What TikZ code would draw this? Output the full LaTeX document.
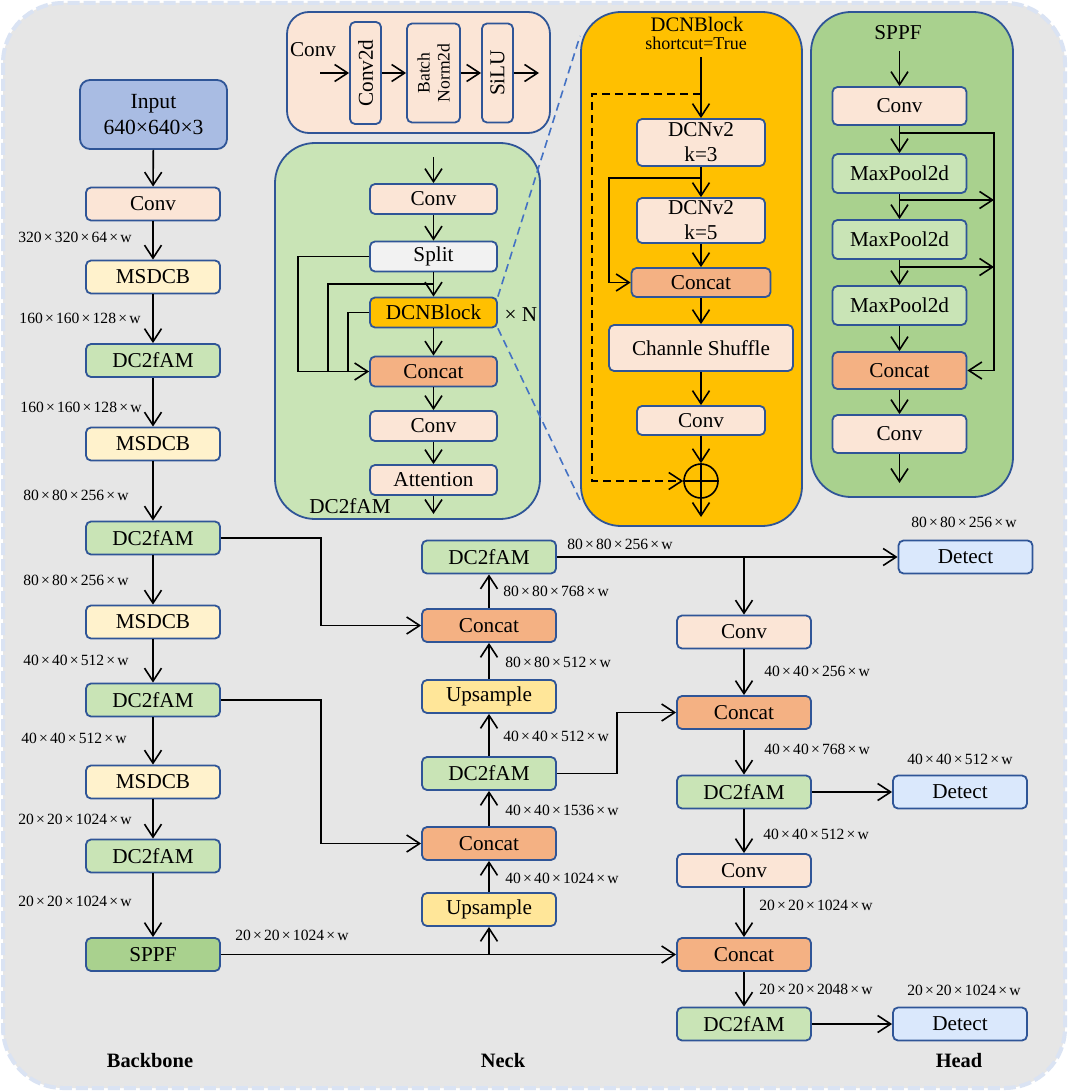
\documentclass[tikz,border=0pt]{standalone}
\usepackage{fontspec}
\setmainfont{Liberation Serif}
\usetikzlibrary{arrows.meta}
\definecolor{borde}{HTML}{2F5597}
\definecolor{fondo}{HTML}{E6E6E6}
\definecolor{margen}{HTML}{DAE3F3}
\definecolor{guiaazul}{HTML}{4472C4}
\definecolor{cconv}{HTML}{FBE5D6}
\definecolor{cmsdcb}{HTML}{FFF2CC}
\definecolor{cdcf}{HTML}{C9E4B6}
\definecolor{csppf}{HTML}{A9D18E}
\definecolor{ccat}{HTML}{F4B183}
\definecolor{cup}{HTML}{FFE699}
\definecolor{cdet}{HTML}{DAE8FC}
\definecolor{cinput}{HTML}{A9BCE3}
\definecolor{csplit}{HTML}{F2F2F2}
\definecolor{cdcn}{HTML}{FFC000}
\newcommand{\por}{\kern1.1pt×\kern1.1pt}
\newcommand{\tam}[3]{#1\por#2\por#3\por w}

\begin{document}
\begin{tikzpicture}[x=0.5pt, y=-0.5pt,
	caja/.style={draw=borde, line width=0.9pt, rounded corners=2.5pt, inner sep=0pt, minimum width=67pt, minimum height=16.5pt, align=center, font=\fontsize{10.6}{12}\selectfont},
	mini/.style={caja, minimum width=63.5pt, minimum height=15pt},
	marco/.style={draw=borde, line width=0.9pt, rounded corners=20pt},
	medida/.style={inner sep=0pt, font=\fontsize{7.8}{9}\selectfont},
	texto/.style={inner sep=0pt, font=\fontsize{10.6}{12}\selectfont},
	titulo/.style={inner sep=0pt, font=\bfseries\fontsize{10.2}{12}\selectfont},
	flecha/.style={-{Straight Barb[length=6.5pt,width=8.5pt]}, line width=0.8pt},
	linea/.style={line width=0.8pt},
	guia/.style={draw=guiaazul, line width=0.8pt, dash pattern=on 4pt off 2.5pt}]
		% Fondo
			\fill[white] (0,0) rectangle (1068,1091);
			\useasboundingbox (0,0) rectangle (1068,1091);
			\draw[draw=margen, fill=fondo, line width=2pt, dash pattern=on 6pt off 2pt, rounded corners=30pt] (3,3) rectangle (1065,1088);
		% Bloque Conv
			\draw[marco, fill=cconv, rounded corners=11pt] (287,12) rectangle (550,133);
			\node[texto] (tconv) at (313,50) {Conv};
			\node[caja, fill=cconv, rotate=90, minimum width=51pt, minimum height=15.5pt] (c2d) at (365.5,73) {Conv2d};
			\node[caja, fill=cconv, rotate=90, minimum width=49.5pt, minimum height=26.5pt, font=\fontsize{8.8}{10}\selectfont] (bn) at (433.5,73) {Batch\\Norm2d};
			\node[caja, fill=cconv, rotate=90, minimum width=49.5pt, minimum height=15.5pt] (silu) at (497.5,73) {SiLU};
			\coordinate (cin) at (320,73);
			\coordinate (cout) at (539,73);
			\draw[flecha] (cin) -- (c2d);
			\draw[flecha] (c2d) -- (bn);
			\draw[flecha] (bn) -- (silu);
			\draw[flecha] (silu) -- (cout);
		% Bloque DC2fAM
			\draw[marco, fill=cdcf] (275,143) rectangle (540,519);
			\node[mini, fill=cconv] (dconv) at (433.5,199) {Conv};
			\node[mini, fill=csplit] (dsplit) at (433.5,256.5) {Split};
			\node[mini, fill=cdcn] (ddcn) at (433.5,312.5) {DCNBlock};
			\node[mini, fill=ccat] (dcat) at (433.5,371.5) {Concat};
			\node[mini, fill=cconv] (dconv2) at (433.5,426) {Conv};
			\node[mini, fill=cconv] (datt) at (433.5,480) {Attention};
			\node[texto] (dn) at (521,315) {× N};
			\node[texto] (tdcf) at (350,506) {DC2fAM};
			\coordinate (din) at (433.5,157);
			\coordinate (dout) at (433.5,514);
			\coordinate (dj) at (433.5,284);
			% Flujo
				\draw[flecha] (din) -- (dconv);
				\draw[flecha] (dconv) -- (dsplit);
				\draw[flecha] (dsplit) -- (ddcn);
				\draw[flecha] (ddcn) -- (dcat);
				\draw[flecha] (dcat) -- (dconv2);
				\draw[flecha] (dconv2) -- (datt);
				\draw[flecha] (datt) -- (dout);
			% Ramas
				\draw[flecha] (dsplit.west) -- ++(-71,0) |- (dcat.west);
				\draw[linea] (dj) -- ++(-105.5,0) |- (dcat.west);
				\draw[linea] (ddcn.west) -- ++(-21,0) |- (dcat.west);
			% Guias
				\coordinate (g1) at (580,36);
				\coordinate (g2) at (580,500);
				\draw[guia] (ddcn.north east) -- (g1);
				\draw[guia] (ddcn.south east) -- (g2);
		% Bloque DCNBlock
			\draw[marco, fill=cdcn] (581,12) rectangle (802,526);
			\node[inner sep=0pt, font=\fontsize{10.3}{12}\selectfont] (tdcn) at (697,24) {DCNBlock};
			\node[inner sep=0pt, font=\fontsize{9}{10}\selectfont] (tshort) at (696,43) {shortcut=True};
			\node[caja, fill=cconv, minimum width=64pt, minimum height=23.5pt, font=\fontsize{10.6}{12.5}\selectfont] (k3) at (701,142.5) {DCNv2\\k=3};
			\node[caja, fill=cconv, minimum width=64pt, minimum height=22.5pt, font=\fontsize{10.6}{12.5}\selectfont] (k5) at (701,220.5) {DCNv2\\k=5};
			\node[caja, fill=ccat, minimum width=69.5pt, minimum height=14.5pt] (ccat) at (701,282.5) {Concat};
			\node[caja, fill=cconv, minimum width=92pt, minimum height=23pt] (shuf) at (701,348) {Channle Shuffle};
			\node[caja, fill=cconv, minimum width=64pt, minimum height=14.5pt] (kconv) at (701,420.5) {Conv};
			\node[circle, draw, line width=0.8pt, minimum size=17pt, inner sep=0pt] (plus) at (701,481) {};
			\draw[linea] (plus.north) -- (plus.south) (plus.west) -- (plus.east);
			\coordinate (kin) at (701,57);
			\coordinate (kout) at (701,517);
			\coordinate (kj) at (701,94);
			\coordinate (kb) at (701,178);
			% Flujo
				\draw[flecha] (kin) -- (k3);
				\draw[flecha] (k3) -- (k5);
				\draw[flecha] (k5) -- (ccat);
				\draw[flecha] (ccat) -- (shuf);
				\draw[flecha] (shuf) -- (kconv);
				\draw[flecha] (kconv) -- (plus);
				\draw[flecha] (plus) -- (kout);
			% Atajos
				\draw[flecha, dash pattern=on 4pt off 2.5pt] (kj) -- ++(-109,0) |- (plus.west);
				\draw[flecha] (kb) -- ++(-92,0) |- (ccat.west);
		% Bloque SPPF
			\draw[marco, fill=csppf] (811,12) rectangle (1013,497);
			\node[texto] (tsppf) at (898,33) {SPPF};
			\node[caja, fill=cconv, minimum height=19pt] (sconv) at (899.5,106) {Conv};
			\node[caja, fill=cdcf, minimum height=19.5pt] (mp1) at (899.5,173.5) {MaxPool2d};
			\node[caja, fill=cdcf, minimum height=19.5pt] (mp2) at (899.5,239.5) {MaxPool2d};
			\node[caja, fill=cdcf, minimum height=19.5pt] (mp3) at (899.5,305.5) {MaxPool2d};
			\node[caja, fill=ccat, minimum height=18.5pt] (scat) at (899.5,370.5) {Concat};
			\node[caja, fill=cconv, minimum height=19pt] (sconv2) at (899.5,434) {Conv};
			\coordinate (sin) at (899.5,51);
			\coordinate (sout) at (899.5,483);
			\coordinate (s0) at (899.5,133);
			\coordinate (s1) at (899.5,200);
			\coordinate (s2) at (899.5,267);
			\coordinate (s1e) at (994,200);
			\coordinate (s2e) at (994,267);
			% Flujo
				\draw[flecha] (sin) -- (sconv);
				\draw[flecha] (sconv) -- (mp1);
				\draw[flecha] (mp1) -- (mp2);
				\draw[flecha] (mp2) -- (mp3);
				\draw[flecha] (mp3) -- (scat);
				\draw[flecha] (scat) -- (sconv2);
				\draw[flecha] (sconv2) -- (sout);
			% Ramas
				\draw[flecha] (s0) -- ++(94.5,0) |- (scat.east);
				\draw[flecha] (s1) -- (s1e);
				\draw[flecha] (s2) -- (s2e);
		% Backbone
			\node[caja, fill=cinput, minimum width=73.5pt, minimum height=34.5pt, rounded corners=5pt, font=\fontsize{10.8}{13}\selectfont] (inp) at (153.5,114.5) {Input\\640×640×3};
			\node[caja, fill=cconv] (bconv) at (153,204) {Conv};
			\node[caja, fill=cmsdcb] (bms1) at (153,277) {MSDCB};
			\node[caja, fill=cdcf] (bdc1) at (153,360.5) {DC2fAM};
			\node[caja, fill=cmsdcb] (bms2) at (153,444) {MSDCB};
			\node[caja, fill=cdcf] (bdc2) at (153,538) {DC2fAM};
			\node[caja, fill=cmsdcb] (bms3) at (153,622) {MSDCB};
			\node[caja, fill=cdcf] (bdc3) at (153,700) {DC2fAM};
			\node[caja, fill=cmsdcb] (bms4) at (153,782) {MSDCB};
			\node[caja, fill=cdcf] (bdc4) at (153,856) {DC2fAM};
			\node[caja, fill=csppf] (bsppf) at (153,954.5) {SPPF};
			% Flujo
				\draw[flecha] (inp) -- (bconv);
				\draw[flecha] (bconv) -- (bms1);
				\draw[flecha] (bms1) -- (bdc1);
				\draw[flecha] (bdc1) -- (bms2);
				\draw[flecha] (bms2) -- (bdc2);
				\draw[flecha] (bdc2) -- (bms3);
				\draw[flecha] (bms3) -- (bdc3);
				\draw[flecha] (bdc3) -- (bms4);
				\draw[flecha] (bms4) -- (bdc4);
				\draw[flecha] (bdc4) -- (bsppf);
			% Medidas
				\node[medida] (m1) at (75,237) {\tam{320}{320}{64}};
				\node[medida] (m2) at (80,318) {\tam{160}{160}{128}};
				\node[medida] (m3) at (81,407) {\tam{160}{160}{128}};
				\node[medida] (m4) at (76,495) {\tam{80}{80}{256}};
				\node[medida] (m5) at (76,580) {\tam{80}{80}{256}};
				\node[medida] (m6) at (76,660) {\tam{40}{40}{512}};
				\node[medida] (m7) at (74,738) {\tam{40}{40}{512}};
				\node[medida] (m8) at (75,819) {\tam{20}{20}{1024}};
				\node[medida] (m9) at (75,901) {\tam{20}{20}{1024}};
				\node[medida] (m10) at (292,935) {\tam{20}{20}{1024}};
		% Neck
			\node[caja, fill=cdcf] (ndc1) at (489,557) {DC2fAM};
			\node[caja, fill=ccat] (ncat1) at (489,625.5) {Concat};
			\node[caja, fill=cup] (nup1) at (489,696.5) {Upsample};
			\node[caja, fill=cdcf] (ndc2) at (489,773.5) {DC2fAM};
			\node[caja, fill=ccat] (ncat2) at (489,843.5) {Concat};
			\node[caja, fill=cup] (nup2) at (489,909.5) {Upsample};
			\coordinate (jn) at (489,954.5);
			% Flujo
				\draw[flecha] (jn) -- (nup2);
				\draw[flecha] (nup2) -- (ncat2);
				\draw[flecha] (ncat2) -- (ndc2);
				\draw[flecha] (ndc2) -- (nup1);
				\draw[flecha] (nup1) -- (ncat1);
				\draw[flecha] (ncat1) -- (ndc1);
				\draw[flecha] (bdc2.east) -- ++(100,0) |- (ncat1.west);
				\draw[flecha] (bdc3.east) -- ++(100,0) |- (ncat2.west);
			% Medidas
				\node[medida, anchor=west] (n1) at (503,591) {\tam{80}{80}{768}};
				\node[medida, anchor=west] (n2) at (505,662) {\tam{80}{80}{512}};
				\node[medida, anchor=west] (n3) at (503,736) {\tam{40}{40}{512}};
				\node[medida, anchor=west] (n4) at (505,810) {\tam{40}{40}{1536}};
				\node[medida, anchor=west] (n5) at (505,878) {\tam{40}{40}{1024}};
				\node[medida] (n6) at (620,544) {\tam{80}{80}{256}};
		% Head
			\node[caja, fill=cconv] (hconv1) at (744,632) {Conv};
			\node[caja, fill=ccat] (hcat1) at (744,712.5) {Concat};
			\node[caja, fill=cdcf] (hdc1) at (744,792) {DC2fAM};
			\node[caja, fill=cconv] (hconv2) at (744,870.5) {Conv};
			\node[caja, fill=ccat] (hcat2) at (744,954.5) {Concat};
			\node[caja, fill=cdcf] (hdc2) at (744,1024) {DC2fAM};
			\node[caja, fill=cdet] (det1) at (965.5,557) {Detect};
			\node[caja, fill=cdet] (det2) at (960,792) {Detect};
			\node[caja, fill=cdet] (det3) at (960,1024) {Detect};
			\coordinate (jh) at (744,557);
			% Flujo
				\draw[flecha] (ndc1) -- (det1);
				\draw[flecha] (jh) -- (hconv1);
				\draw[flecha] (hconv1) -- (hcat1);
				\draw[flecha] (ndc2.east) -- ++(60,0) |- (hcat1.west);
				\draw[flecha] (hcat1) -- (hdc1);
				\draw[flecha] (hdc1) -- (det2);
				\draw[flecha] (hdc1) -- (hconv2);
				\draw[flecha] (hconv2) -- (hcat2);
				\draw[flecha] (bsppf) -- (hcat2);
				\draw[flecha] (hcat2) -- (hdc2);
				\draw[flecha] (hdc2) -- (det3);
			% Medidas
				\node[medida, anchor=west] (h1) at (764,671) {\tam{40}{40}{256}};
				\node[medida, anchor=west] (h2) at (764,749) {\tam{40}{40}{768}};
				\node[medida, anchor=west] (h3) at (763,834) {\tam{40}{40}{512}};
				\node[medida, anchor=west] (h4) at (759,905) {\tam{20}{20}{1024}};
				\node[medida, anchor=west] (h5) at (759,989) {\tam{20}{20}{2048}};
				\node[medida] (h6) at (964,522) {\tam{80}{80}{256}};
				\node[medida] (h7) at (960,759) {\tam{40}{40}{512}};
				\node[medida] (h8) at (964,990) {\tam{20}{20}{1024}};
		% Etiquetas
			\node[titulo] (lback) at (150,1061) {Backbone};
			\node[titulo] (lneck) at (503,1061) {Neck};
			\node[titulo] (lhead) at (959,1061) {Head};
	\end{tikzpicture}
\end{document}
